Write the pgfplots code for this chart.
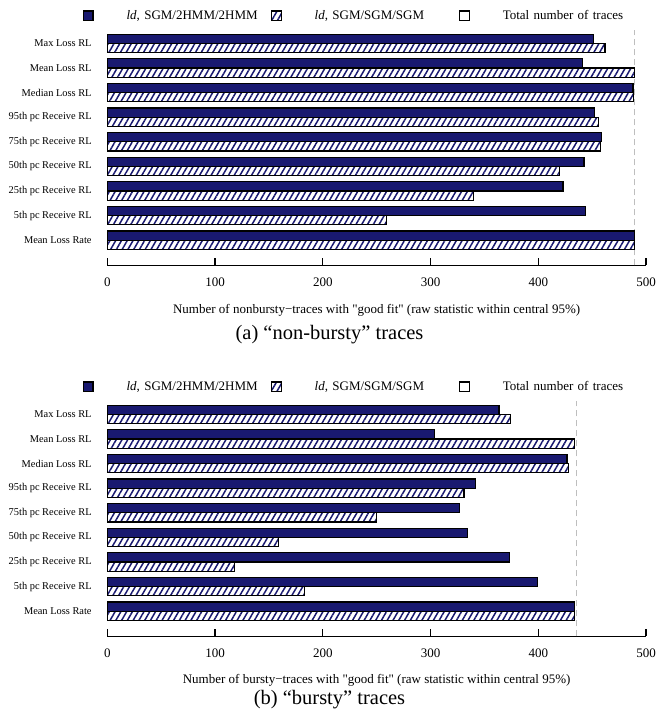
\documentclass[border=0pt]{standalone}
\usepackage{fontspec}
\setmainfont{Liberation Serif}[Ligatures=TeXOff]
\usepackage{pgfplots}
\usepackage{pgfplotstable}
\pgfplotsset{compat=1.18}
\usetikzlibrary{patterns.meta}
\definecolor{navy}{RGB}{25,25,112}
\definecolor{totgray}{RGB}{190,190,190}

% number of traces with good fit, per statistic (k=0 bottom ... 8 top)
\pgfplotstableread{
k solid hatched
8 451   462
7 441   489
6 488   488.5
5 452   456
4 459   458
3 442.5 420
2 423   340
1 444   259
0 489   489
}\nonbursty

\pgfplotstableread{
k solid hatched
8 363.5 374
7 303.5 434
6 426.6 428
5 342   331
4 327   250
3 334   159
2 373   118
1 399   183
0 434   434
}\bursty

\pgfplotsset{
  legsq/.style={legend image code/.code={%
      \draw[##1,line width=1.2bp] (0bp,-4.7bp) rectangle (9.4bp,4.7bp);
      \path[draw=none,fill=none,pattern=none] (0bp,0bp) rectangle (43bp,0.1bp);}},
  solidbar/.style={xbar, bar width=9.2bp, bar shift=4.6bp, fill=navy, draw=black, line width=1.2bp},
  hatchbar/.style={xbar, bar width=9.2bp, bar shift=-4.6bp, draw=black, line width=1.2bp,
      pattern={Lines[angle=60,distance=5bp,line width=1.5bp]}, pattern color=navy},
  fitpanel/.style={
    scale only axis, width=538.7bp, y=24.6bp,
    xmin=0, xmax=500, ymin=-1.02, ymax=8.55,
    clip=false,
    axis x line*=bottom, axis y line*=left,
    y axis line style={draw=none}, ytick style={draw=none},
    x axis line style={line width=1.2bp, black},
    xtick={0,100,...,500}, xtick align=inside, major tick length=7bp,
    xtick style={line width=1.2bp, black},
    /pgf/number format/assume math mode=true,
    xticklabel style={font=\fontsize{13bp}{15bp}\selectfont, inner sep=0pt, yshift=-12bp},
    ytick={0,...,8},
    yticklabels={Mean Loss Rate,5th pc Receive RL,25th pc Receive RL,50th pc Receive RL,75th pc Receive RL,95th pc Receive RL,Median Loss RL,Mean Loss RL,Max Loss RL},
    yticklabel style={font=\fontsize{10.4bp}{12bp}\selectfont, inner sep=0pt, xshift=-15.5bp},
    xlabel style={at={(axis description cs:0.5,0)}, anchor=center, inner sep=0pt,
      font=\fontsize{13bp}{15bp}\selectfont},
    legend columns=-1,
    legend style={draw=none, fill=none, inner sep=0pt, outer sep=0pt,
      at={(axis description cs:0,1)}, anchor=west, xshift=-24.3bp, yshift=14.2bp,
      font=\fontsize{13bp}{15bp}\selectfont,
      nodes={inner sep=0pt, text width=144.5bp, align=left},
      /tikz/column sep=0pt},
  },
}

\begin{document}
\begin{tikzpicture}
\useasboundingbox (0bp,0bp) rectangle (659bp,-721bp);

\begin{axis}[fitpanel, at={(107.3bp,-265.3bp)}, anchor=south west,
  xlabel style={yshift=-45.5bp},
  xlabel={Number of nonbursty−traces with "good fit" (raw statistic within central 95\%)}]
  \addlegendimage{legsq, fill=navy, draw=black}
  \addlegendentry{\textit{ld}, SGM/2HMM/2HMM}
  \addlegendimage{legsq, draw=black, pattern={Lines[angle=60,distance=5bp,line width=1.5bp]}, pattern color=navy}
  \addlegendentry{\textit{ld}, SGM/SGM/SGM}
  \addlegendimage{legsq, fill=white, draw=black}
  \addlegendentry{Total number of traces}
  \addplot[forget plot, sharp plot, totgray, line width=1.2bp, dash pattern=on 6bp off 4bp]
    coordinates {(489,-1.02) (489,8.55)};
  \addplot[forget plot, solidbar] table[x=solid, y=k] {\nonbursty};
  \addplot[forget plot, hatchbar] table[x=hatched, y=k] {\nonbursty};
\end{axis}
\node[font=\fontsize{20.5bp}{24bp}\selectfont, inner sep=0pt] at (329.5bp,-335bp) {(a) “non-bursty” traces};

\begin{axis}[fitpanel, at={(107.3bp,-636.3bp)}, anchor=south west,
  xlabel style={yshift=-44.5bp},
  xlabel={Number of bursty−traces with "good fit" (raw statistic within central 95\%)}]
  \addlegendimage{legsq, fill=navy, draw=black}
  \addlegendentry{\textit{ld}, SGM/2HMM/2HMM}
  \addlegendimage{legsq, draw=black, pattern={Lines[angle=60,distance=5bp,line width=1.5bp]}, pattern color=navy}
  \addlegendentry{\textit{ld}, SGM/SGM/SGM}
  \addlegendimage{legsq, fill=white, draw=black}
  \addlegendentry{Total number of traces}
  \addplot[forget plot, sharp plot, totgray, line width=1.2bp, dash pattern=on 6bp off 4bp]
    coordinates {(435.5,-1.02) (435.5,8.55)};
  \addplot[forget plot, solidbar] table[x=solid, y=k] {\bursty};
  \addplot[forget plot, hatchbar] table[x=hatched, y=k] {\bursty};
\end{axis}
\node[font=\fontsize{20.5bp}{24bp}\selectfont, inner sep=0pt] at (329.5bp,-700bp) {(b) “bursty” traces};
\end{tikzpicture}
\end{document}
